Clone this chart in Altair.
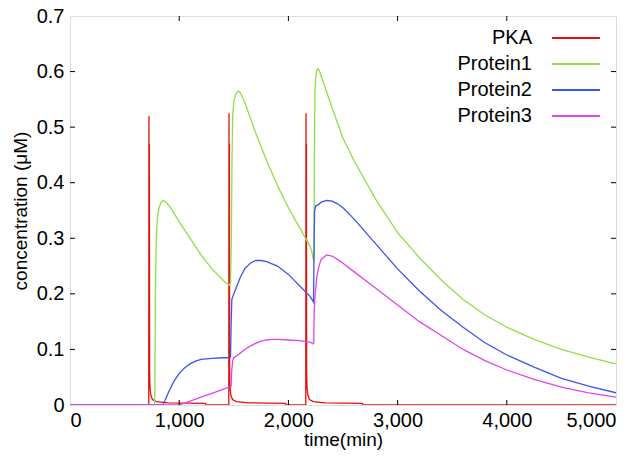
import altair as alt
import pandas as pd

# ---------------- data ----------------
pka_t = [0, 700, 721, 723, 725, 727, 729, 733, 740, 755, 790, 900, 1240, 1246,
         1440, 1454, 1456, 1458, 1460, 1462, 1466, 1473, 1488, 1523, 1633, 1973, 1979,
         2145, 2159, 2161, 2163, 2165, 2167, 2171, 2178, 2193, 2228, 2338, 2678, 2684, 5000]
pka_v = [0, 0, 0, 0.52, 0.05, 0.47, 0.06, 0.03, 0.018, 0.01, 0.006, 0.004, 0.003, 0,
         0, 0, 0.525, 0.05, 0.47, 0.06, 0.03, 0.018, 0.01, 0.006, 0.004, 0.003, 0,
         0, 0, 0.525, 0.05, 0.47, 0.06, 0.03, 0.018, 0.01, 0.006, 0.004, 0.003, 0, 0]

p1_t = [0, 775, 778, 782, 790, 800, 815, 835, 855, 880, 920, 1000, 1100, 1200, 1300,
        1400, 1456, 1470, 1478, 1484, 1490, 1500, 1515, 1530, 1545, 1560, 1600, 1700,
        1800, 1900, 2000, 2100, 2200, 2215, 2228, 2234, 2238, 2243, 2250, 2260, 2272,
        2290, 2330, 2400, 2500, 2600, 2800, 3000, 3200, 3400, 3600, 3800, 4000, 4250,
        4500, 4750, 5000]
p1_v = [0, 0, 0.05, 0.2, 0.3, 0.335, 0.355, 0.365, 0.368, 0.365, 0.355, 0.33, 0.3, 0.27,
        0.245, 0.225, 0.215, 0.22, 0.3, 0.45, 0.52, 0.545, 0.558, 0.563, 0.565, 0.562,
        0.545, 0.49, 0.44, 0.395, 0.355, 0.32, 0.285, 0.275, 0.262, 0.258, 0.45, 0.56,
        0.59, 0.603, 0.605, 0.598, 0.575, 0.535, 0.48, 0.44, 0.37, 0.31, 0.265, 0.225,
        0.19, 0.162, 0.14, 0.118, 0.1, 0.086, 0.074]

p2_t = [0, 850, 870, 900, 950, 1000, 1050, 1100, 1150, 1200, 1300, 1400, 1456, 1470,
        1476, 1482, 1500, 1530, 1560, 1600, 1650, 1700, 1750, 1800, 1900, 2000, 2100,
        2200, 2215, 2230, 2236, 2240, 2250, 2270, 2300, 2350, 2400, 2450, 2500, 2600,
        2800, 3000, 3200, 3400, 3600, 3800, 4000, 4250, 4500, 4750, 5000]
p2_v = [0, 0, 0.008, 0.022, 0.042, 0.057, 0.067, 0.074, 0.079, 0.082, 0.084, 0.085,
        0.085, 0.086, 0.15, 0.19, 0.2, 0.215, 0.23, 0.245, 0.255, 0.26, 0.26, 0.258,
        0.25, 0.235, 0.215, 0.195, 0.19, 0.185, 0.3, 0.35, 0.358, 0.36, 0.365, 0.368,
        0.367, 0.362, 0.355, 0.335, 0.29, 0.245, 0.205, 0.17, 0.14, 0.112, 0.09, 0.068,
        0.048, 0.034, 0.022]

p3_t = [0, 1000, 1100, 1200, 1300, 1400, 1456, 1475, 1480, 1490, 1500, 1550, 1600,
        1650, 1700, 1750, 1800, 1850, 1900, 2000, 2100, 2200, 2225, 2232, 2236, 2245,
        2260, 2280, 2300, 2350, 2400, 2450, 2500, 2600, 2800, 3000, 3200, 3400, 3600,
        3800, 4000, 4250, 4500, 4750, 5000]
p3_v = [0, 0, 0.007, 0.014, 0.021, 0.028, 0.032, 0.033, 0.06, 0.08, 0.085, 0.092, 0.1,
        0.106, 0.111, 0.115, 0.117, 0.118, 0.118, 0.117, 0.116, 0.113, 0.11, 0.112,
        0.17, 0.2, 0.23, 0.25, 0.262, 0.27, 0.268, 0.262, 0.255, 0.24, 0.21, 0.18,
        0.15, 0.125, 0.1, 0.08, 0.063, 0.046, 0.032, 0.022, 0.014]

series_names = ["PKA", "Protein1", "Protein2", "Protein3"]
series_colors = ["#e3120b", "#8ee046", "#3a55f2", "#df45ee"]
x_ticks = [0, 1000, 2000, 3000, 4000, 5000]
y_ticks = [0, 0.1, 0.2, 0.3, 0.4, 0.5, 0.6, 0.7]

# ---------------- build ----------------
W, H = 546, 389
FONT = "Liberation Sans"

frames = []
for name, tt, vv in [("PKA", pka_t, pka_v), ("Protein1", p1_t, p1_v),
                     ("Protein2", p2_t, p2_v), ("Protein3", p3_t, p3_v)]:
    frames.append(pd.DataFrame({"time": tt, "conc": vv, "series": name,
                                "order": range(len(tt))}))
df = pd.concat(frames, ignore_index=True)

xs = alt.Scale(domain=[0, 5000], nice=False)
ys = alt.Scale(domain=[0, 0.7], nice=False)

lines = alt.Chart(df).mark_line(strokeWidth=1.3, clip=True).encode(
    x=alt.X("time:Q", scale=xs,
            axis=alt.Axis(title="time(min)", values=x_ticks, format=",d", ticks=False,
                          domain=False, grid=False, labelFont=FONT, labelFontSize=20,
                          labelColor="black", labelPadding=5, titleFont=FONT,
                          titleFontSize=19, titleFontWeight="normal", titleColor="black",
                          titlePadding=0)),
    y=alt.Y("conc:Q", scale=ys,
            axis=alt.Axis(title="concentration (μM)", values=y_ticks, format="~g",
                          ticks=False, domain=False, grid=False, labelFont=FONT,
                          labelFontSize=20, labelColor="black", labelPadding=6,
                          titleFont=FONT, titleFontSize=19, titleFontWeight="normal",
                          titleColor="black", titlePadding=6)),
    color=alt.Color("series:N", scale=alt.Scale(domain=series_names, range=series_colors),
                    legend=None),
    order="order:Q",
    detail="series:N",
)

# inward ticks on all four sides
xt = pd.DataFrame({"t": x_ticks[1:-1]})
yt = pd.DataFrame({"v": y_ticks[1:-1]})
tick_layers = [
    alt.Chart(xt).mark_rule(color="black", strokeWidth=1).encode(
        x=alt.X("t:Q", scale=xs), y=alt.value(H), y2=alt.value(H - 5)),
    alt.Chart(xt).mark_rule(color="black", strokeWidth=1).encode(
        x=alt.X("t:Q", scale=xs), y=alt.value(0), y2=alt.value(5)),
    alt.Chart(yt).mark_rule(color="black", strokeWidth=1).encode(
        y=alt.Y("v:Q", scale=ys), x=alt.value(0), x2=alt.value(5)),
    alt.Chart(yt).mark_rule(color="black", strokeWidth=1).encode(
        y=alt.Y("v:Q", scale=ys), x=alt.value(W), x2=alt.value(W - 5)),
]

# legend (labels right-aligned, sample line on the right)
leg_layers = []
for i, (nm, col) in enumerate(zip(series_names, series_colors)):
    yy = 22 + i * 26
    d = pd.DataFrame({"name": [nm]})
    leg_layers.append(alt.Chart(d).mark_text(align="right", baseline="middle",
                                             font=FONT, fontSize=20, color="black").encode(
        text="name:N", x=alt.value(462), y=alt.value(yy)))
    leg_layers.append(alt.Chart(d).mark_rule(color=col, strokeWidth=2).encode(
        x=alt.value(482), x2=alt.value(530), y=alt.value(yy)))

chart = alt.layer(lines, *tick_layers, *leg_layers).properties(
    width=W, height=H,
    autosize=alt.AutoSizeParams(type="none"),
    padding={"left": 70, "top": 16, "right": 26, "bottom": 54},
).configure_view(stroke="black", strokeWidth=1.2).configure(background="white")

chart.save("out.html", embed_options={"renderer": "svg", "actions": False})
